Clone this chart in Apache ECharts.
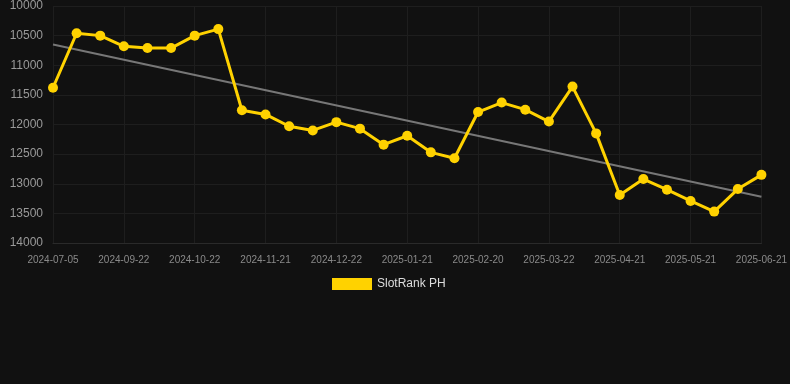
<!DOCTYPE html>
<html>
<head>
<meta charset="utf-8">
<style>
html,body{margin:0;padding:0;background:#111111;}
#chart{width:790px;height:384px;}
</style>
<script src="https://cdn.jsdelivr.net/npm/echarts@6/dist/echarts.min.js"></script>
</head>
<body>
<div id="chart"></div>
<script>
const categories = [
  "2024-07-05","2024-09-02","2024-09-12","2024-09-22","2024-10-02","2024-10-12",
  "2024-10-22","2024-11-01","2024-11-11","2024-11-21","2024-12-01","2024-12-12",
  "2024-12-22","2025-01-01","2025-01-11","2025-01-21","2025-01-31","2025-02-10",
  "2025-02-20","2025-03-02","2025-03-12","2025-03-22","2025-04-01","2025-04-11",
  "2025-04-21","2025-05-01","2025-05-11","2025-05-21","2025-05-31","2025-06-10",
  "2025-06-21"
];
const rankValues = [
  11380, 10460, 10500, 10680, 10710, 10710,
  10500, 10390, 11760, 11830, 12030, 12100,
  11960, 12070, 12340, 12190, 12470, 12570,
  11790, 11630, 11750, 11950, 11360, 12150,
  13190, 12920, 13100, 13290, 13470, 13090,
  12850
];
const trendStart = 10650;
const trendEnd = 13220;
const yTicks = { min: 10000, max: 14000, interval: 500 };

const chart = echarts.init(document.getElementById('chart'));
chart.setOption({
  backgroundColor: '#111111',
  animation: false,
  grid: { left: 53, right: 28, top: 6, bottom: 141 },
  legend: {
    data: ['SlotRank PH'],
    bottom: 89,
    left: 327,
    itemWidth: 40,
    itemHeight: 12,
    textStyle: { color: '#dddddd', fontSize: 12, fontFamily: 'Liberation Sans, Arial, sans-serif' },
    icon: 'rect'
  },
  xAxis: {
    type: 'category',
    data: categories,
    boundaryGap: false,
    axisLine: { show: true, lineStyle: { color: '#2a2a2a' } },
    axisTick: { show: false },
    axisLabel: { interval: 2, color: '#8a8a8a', fontSize: 10, margin: 12, fontFamily: 'Liberation Sans, Arial, sans-serif' },
    splitLine: { show: true, interval: 2, lineStyle: { color: '#1e1e1e' } }
  },
  yAxis: {
    type: 'value',
    inverse: true,
    min: yTicks.min,
    max: yTicks.max,
    interval: yTicks.interval,
    axisLine: { show: false },
    axisTick: { show: false },
    axisLabel: { color: '#9a9a9a', fontSize: 12, margin: 10, fontFamily: 'Liberation Sans, Arial, sans-serif', formatter: function (v) { return String(v); } },
    splitLine: { show: true, lineStyle: { color: '#1e1e1e' } }
  },
  series: [
    {
      name: 'SlotRank PH',
      type: 'line',
      data: rankValues,
      symbol: 'circle',
      symbolSize: 10,
      itemStyle: { color: '#ffd200' },
      lineStyle: { color: '#ffd200', width: 3 },
      z: 3
    },
    {
      name: 'Trend',
      type: 'line',
      data: [[0, trendStart], [categories.length - 1, trendEnd]],
      symbol: 'none',
      lineStyle: { color: '#777777', width: 2 },
      z: 2,
      silent: true
    }
  ]
});
</script>
</body>
</html>
